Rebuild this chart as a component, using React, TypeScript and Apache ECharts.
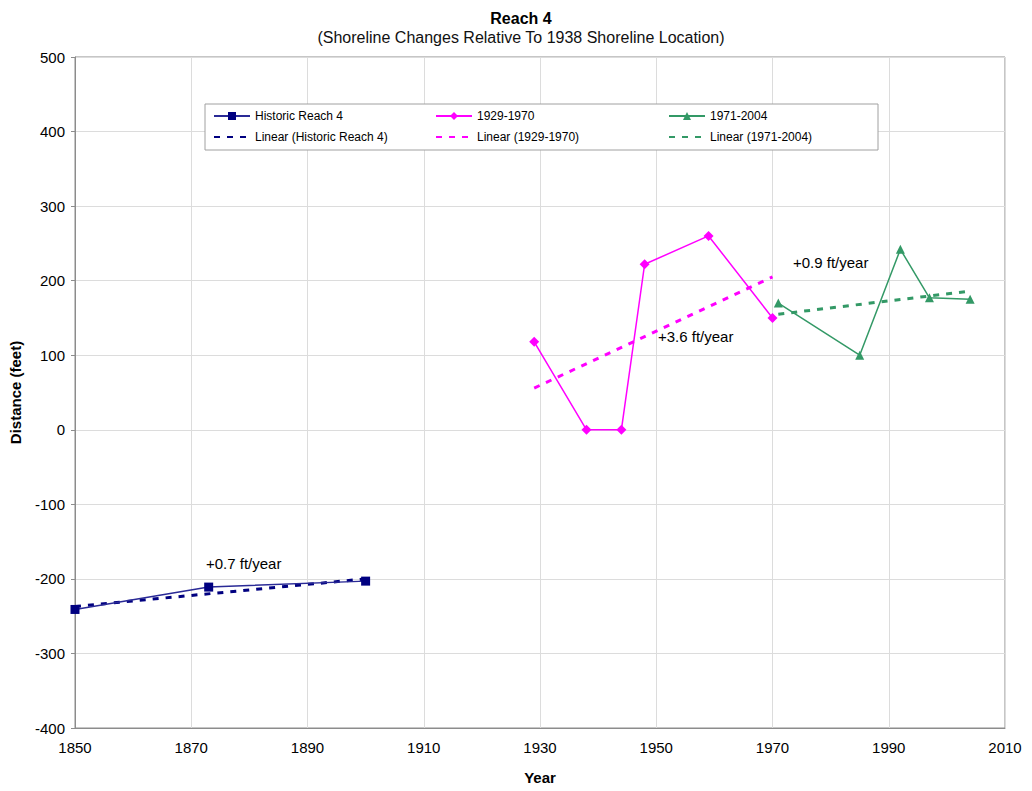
import React, { useEffect, useRef } from "react";
import * as echarts from "echarts";

const historicYears = [1850, 1873, 1900];
const historicValues = [-241, -211, -203];
const midYears = [1929, 1938, 1944, 1948, 1959, 1970];
const midValues = [118, 0, 0, 222, 260, 150];
const lateYears = [1971, 1985, 1992, 1997, 2004];
const lateValues = [170, 100, 242, 177, 175];

const historicTrendYears = [1850, 1900];
const historicTrendValues = [-237, -200];
const midTrendYears = [1929, 1970];
const midTrendValues = [56, 205];
const lateTrendYears = [1971, 2004];
const lateTrendValues = [155, 186];

const seriesNames = [
  "Historic Reach 4",
  "1929-1970",
  "1971-2004",
  "Linear (Historic Reach 4)",
  "Linear (1929-1970)",
  "Linear (1971-2004)",
];
const annotations = ["+0.7 ft/year", "+3.6 ft/year", "+0.9 ft/year"];

const pairs = (xs: number[], ys: number[]) => xs.map((x, i) => [x, ys[i]]);

const FONT = "'Liberation Sans', Arial, sans-serif";
const NAVY = "#000080";
const PINK = "#FF00FF";
const GREEN = "#339966";

export default function App() {
  const ref = useRef<HTMLDivElement>(null);
  useEffect(() => {
    if (!ref.current) return;
    const chart = echarts.init(ref.current, null, { renderer: "svg" });
    const legendPos = [
      [213, 110],
      [435, 110],
      [668, 110],
      [213, 131],
      [435, 131],
      [668, 131],
    ];
    const annPos = [
      [206, 563],
      [658, 336],
      [793, 262],
    ];
    chart.setOption({
      animation: false,
      backgroundColor: "#fff",
      textStyle: { fontFamily: FONT },
      title: {
        text: "Reach 4",
        subtext: "(Shoreline Changes Relative To 1938 Shoreline Location)",
        left: 516,
        textAlign: "center",
        top: 5,
        itemGap: 3,
        textStyle: { fontFamily: FONT, fontSize: 16, fontWeight: "bold", color: "#000" },
        subtextStyle: { fontFamily: FONT, fontSize: 16, color: "#111" },
      },
      legend: seriesNames.map((n, i) => {
        const l: any = {
          data: [n],
          left: legendPos[i][0],
          top: legendPos[i][1],
          itemWidth: 36,
          itemHeight: 10,
          padding: 0,
          textStyle: { fontFamily: FONT, fontSize: 12, color: "#000" },
          z: 5,
        };
        if (i >= 3) l.itemStyle = { opacity: 0 };
        return l;
      }),
      graphic: [
        {
          type: "rect",
          z: 3,
          shape: { x: 205, y: 104, width: 673, height: 46 },
          style: { fill: "#fff", stroke: "#a0a0a0", lineWidth: 1 },
        },
        ...annotations.map((t, i) => ({
          type: "text",
          z: 6,
          x: annPos[i][0],
          y: annPos[i][1],
          style: { text: t, font: `15px ${FONT}`, fill: "#000", textVerticalAlign: "middle" },
        })),
      ],
      grid: {
        left: 75,
        right: 27,
        top: 57,
        bottom: 63,
        containLabel: false,
        outerBoundsMode: "none",
        show: true,
        borderColor: "#8c8c8c",
        borderWidth: 1,
      },
      xAxis: {
        type: "value",
        min: 1850,
        max: 2010,
        interval: 20,
        name: "Year",
        nameLocation: "middle",
        nameGap: 42,
        nameTextStyle: { fontFamily: FONT, fontSize: 15, fontWeight: "bold", color: "#000" },
        axisLine: { show: true, onZero: false, lineStyle: { color: "#8c8c8c" } },
        axisTick: { show: false },
        axisLabel: {
          fontFamily: FONT,
          fontSize: 15,
          color: "#000",
          margin: 12,
          formatter: (v: number) => String(v),
        },
        splitLine: { show: true, lineStyle: { color: "#dcdcdc" } },
      },
      yAxis: {
        type: "value",
        min: -400,
        max: 500,
        interval: 100,
        name: "Distance (feet)",
        nameLocation: "middle",
        nameGap: 52,
        nameRotate: 90,
        nameTextStyle: { fontFamily: FONT, fontSize: 15, fontWeight: "bold", color: "#000" },
        axisLine: { show: true, onZero: false, lineStyle: { color: "#8c8c8c" } },
        axisTick: { show: true, length: 4, lineStyle: { color: "#8c8c8c" } },
        axisLabel: {
          fontFamily: FONT,
          fontSize: 15,
          color: "#000",
          margin: 10,
          formatter: (v: number) => String(v),
        },
        splitLine: { show: true, lineStyle: { color: "#dcdcdc" } },
      },
      series: [
        {
          name: seriesNames[0],
          type: "line",
          data: pairs(historicYears, historicValues),
          symbol: "rect",
          symbolSize: 9,
          color: NAVY,
          lineStyle: { color: "#2a2a96", width: 1.5 },
          itemStyle: { color: NAVY },
          z: 4,
        },
        {
          name: seriesNames[1],
          type: "line",
          data: pairs(midYears, midValues),
          symbol: "diamond",
          symbolSize: 10,
          color: PINK,
          lineStyle: { color: PINK, width: 1.5 },
          itemStyle: { color: PINK },
          z: 4,
        },
        {
          name: seriesNames[2],
          type: "line",
          data: pairs(lateYears, lateValues),
          symbol: "triangle",
          symbolSize: 9,
          color: GREEN,
          lineStyle: { color: GREEN, width: 1.5 },
          itemStyle: { color: GREEN },
          z: 4,
        },
        {
          name: seriesNames[3],
          type: "line",
          data: pairs(historicTrendYears, historicTrendValues),
          symbol: "none",
          color: NAVY,
          lineStyle: { color: NAVY, width: 3, type: [6, 7] },
          z: 3,
        },
        {
          name: seriesNames[4],
          type: "line",
          data: pairs(midTrendYears, midTrendValues),
          symbol: "none",
          color: PINK,
          lineStyle: { color: PINK, width: 3, type: [6, 7] },
          z: 3,
        },
        {
          name: seriesNames[5],
          type: "line",
          data: pairs(lateTrendYears, lateTrendValues),
          symbol: "none",
          color: GREEN,
          lineStyle: { color: GREEN, width: 3, type: [6, 7] },
          z: 3,
        },
      ],
    });
    return () => chart.dispose();
  }, []);
  return (
    <div
      ref={ref}
      style={{ position: "fixed", left: 0, top: 0, width: 1032, height: 791 }}
    />
  );
}
